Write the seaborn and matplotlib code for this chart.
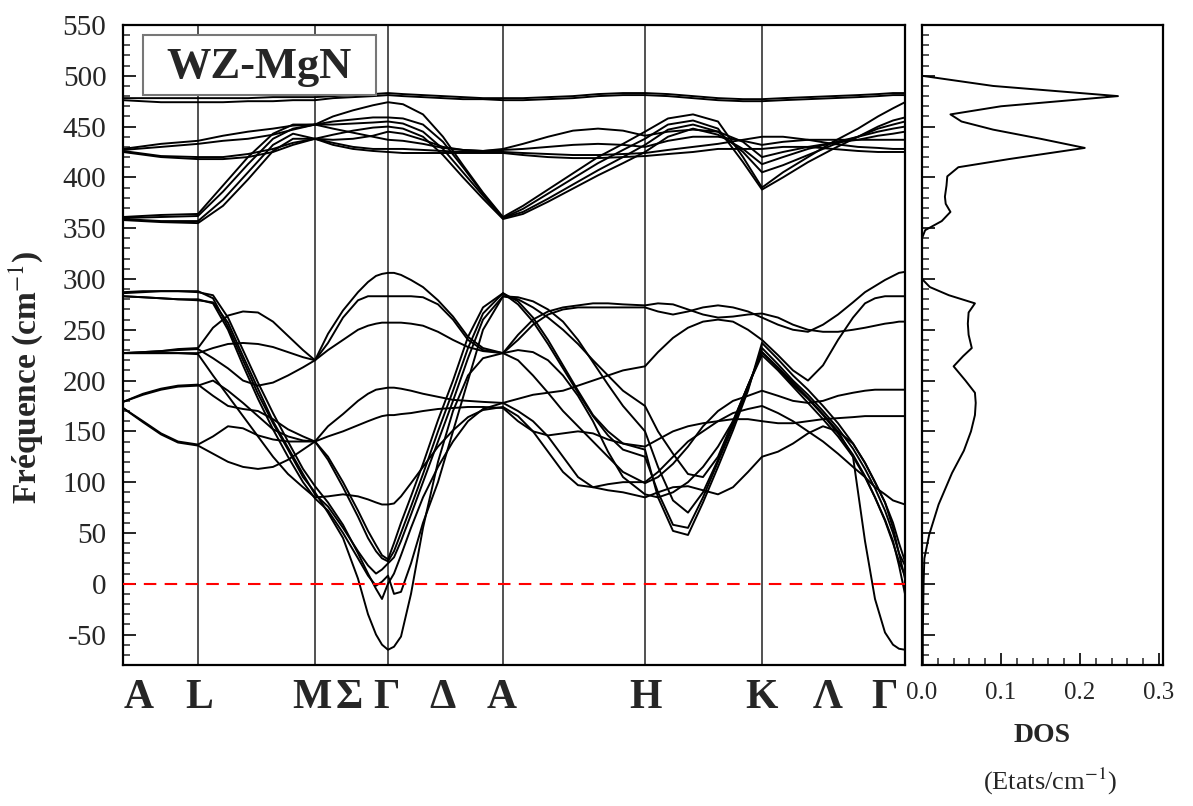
import numpy as np
import pandas as pd
import matplotlib
matplotlib.use("Agg")
import matplotlib.pyplot as plt
import seaborn as sns
from matplotlib.ticker import MultipleLocator
from matplotlib.patches import Rectangle

# ---------------- data ----------------
# high-symmetry path (cumulative path length, arbitrary units)
sym_k = [0, 75, 192, 265, 380, 522, 639, 782]
label_texts = ["A", "L", "M", "Σ", "Γ", "Δ", "A", "H", "K", "Λ", "Γ"]

# k sampling for the optical (high) bands
k_high = [0, 38, 75, 100, 125, 150, 170, 192, 210, 230, 250, 265,
          280, 300, 320, 340, 360, 380, 400, 425, 450, 475, 500, 522,
          545, 570, 595, 620, 639, 660, 685, 710, 735, 755, 770, 782]

high_bands = [
    [478, 478, 478, 478, 478, 479, 479, 479, 480, 481, 482, 483, 482, 481, 480, 479, 478, 478,
     478, 479, 480, 482, 483, 483, 482, 480, 478, 477, 477, 478, 479, 480, 481, 482, 483, 483],
    [476, 474, 474, 474, 475, 475, 476, 476, 478, 479, 480, 481, 480, 479, 478, 477, 477, 476,
     476, 477, 478, 480, 481, 481, 480, 478, 476, 475, 475, 476, 477, 478, 479, 480, 481, 481],
    [428, 433, 436, 441, 445, 448, 451, 452, 460, 466, 471, 474, 472, 462, 440, 412, 385, 361,
     372, 388, 404, 420, 433, 445, 458, 462, 455, 420, 390, 405, 420, 435, 448, 460, 468, 474],
    [427, 430, 433, 436, 438, 442, 447, 452, 455, 457, 459, 459, 458, 452, 435, 410, 384, 360,
     369, 384, 399, 414, 427, 438, 452, 456, 448, 415, 388, 400, 415, 428, 440, 450, 456, 459],
    [426, 421, 420, 420, 423, 428, 434, 438, 442, 446, 449, 450, 448, 440, 422, 400, 379, 359,
     364, 376, 389, 402, 414, 425, 440, 448, 442, 428, 413, 420, 428, 434, 440, 445, 448, 450],
    [425, 420, 418, 418, 420, 425, 432, 438, 437, 438, 441, 445, 443, 437, 430, 427, 426, 428,
     433, 440, 446, 448, 446, 441, 445, 447, 445, 435, 420, 425, 430, 434, 437, 441, 443, 445],
    [361, 363, 364, 392, 420, 443, 452, 452, 452, 453, 454, 455, 453, 445, 428, 405, 382, 360,
     366, 379, 393, 407, 420, 432, 447, 452, 445, 425, 405, 412, 422, 432, 440, 448, 452, 455],
    [360, 361, 362, 386, 413, 438, 448, 452, 448, 444, 440, 437, 436, 433, 429, 427, 426, 427,
     428, 430, 432, 433, 432, 430, 436, 440, 440, 436, 432, 435, 437, 437, 437, 437, 437, 437],
    [359, 357, 357, 378, 405, 432, 443, 438, 434, 430, 428, 428, 428, 427, 426, 425, 425, 425,
     424, 423, 422, 422, 423, 424, 427, 430, 433, 437, 440, 440, 437, 433, 430, 429, 428, 428],
    [358, 356, 355, 372, 398, 426, 438, 438, 432, 428, 426, 425, 424, 424, 424, 424, 424, 424,
     422, 420, 419, 419, 420, 421, 423, 425, 428, 428, 428, 430, 430, 428, 426, 425, 425, 425],
]

# k sampling for the acoustic / low optical bands
k_low = [0, 20, 38, 55, 75,
         90, 105, 120, 135, 150, 165, 180, 192,
         205, 220, 235, 245, 253, 259, 265,
         271, 278, 288, 300, 315, 330, 345, 360, 380,
         395, 410, 425, 440, 455, 470, 485, 500, 522,
         535, 550, 565, 580, 595, 610, 625, 639,
         655, 670, 685, 700, 715, 730, 742, 752, 762, 770, 776, 782]

low_bands = [
    [227, 228, 229, 231, 232,
     252, 264, 268, 267, 258, 244, 230, 220,
     246, 269, 287, 297, 303, 305, 306,
     306, 304, 299, 292, 279, 263, 243, 232, 227,
     240, 255, 265, 270, 272, 272, 272, 272, 272,
     268, 265, 268, 272, 274, 272, 268, 262,
     255, 250, 248, 255, 265, 277, 287, 293, 299, 303, 306, 307],
    [227, 227, 227, 227, 227,
     232, 236, 237, 236, 233, 228, 223, 220,
     237, 262, 279, 283, 283, 283, 283,
     283, 283, 283, 282, 275, 260, 240, 230, 227,
     245, 260, 268, 272, 274, 276, 276, 275, 274,
     276, 275, 270, 265, 262, 263, 265, 266,
     262, 255, 250, 248, 248, 250, 252, 254, 256, 257, 258, 258],
    [227, 228, 229, 230, 231,
     222, 212, 200, 195, 198, 205, 213, 220,
     230, 240, 250, 254, 256, 257, 257,
     257, 257, 256, 254, 248, 240, 233, 229, 227,
     220, 205, 188, 170, 155, 140, 125, 110, 99,
     105, 118, 135, 155, 170, 180, 185, 190,
     185, 180, 178, 180, 185, 188, 190, 191, 191, 191, 191, 191],
    [227, 227, 227, 227, 226,
     205, 185, 165, 145, 125, 108, 95, 85,
     86, 88, 86, 83, 80, 78, 78,
     79, 86, 99, 115, 135, 151, 164, 171, 174,
     165, 150, 130, 110, 97, 95, 98, 100, 100,
     110, 125, 140, 150, 160, 168, 172, 175,
     168, 160, 150, 140, 128, 115, 105, 95, 88, 82, 80, 78],
    [179, 187, 192, 195, 196,
     185, 175, 172, 170, 162, 152, 145, 140,
     155, 167, 180, 187, 191, 192, 193,
     193, 192, 190, 187, 184, 181, 180, 179, 178,
     182, 186, 188, 190, 195, 200, 205, 210, 214,
     228, 242, 252, 258, 260, 258, 250, 240,
     225, 210, 200, 215, 240, 262, 276, 281, 283, 283, 283, 283],
    [179, 186, 191, 194, 195,
     200, 190, 178, 165, 152, 145, 141, 140,
     145, 150, 156, 160, 163, 165, 166,
     166, 167, 168, 170, 172, 173, 174, 174, 173,
     160, 150, 146, 148, 150, 148, 142, 138, 135,
     142, 150, 155, 158, 160, 162, 162, 160,
     158, 158, 160, 162, 163, 164, 165, 165, 165, 165, 165, 165],
    [173, 160, 148, 140, 137,
     145, 155, 153, 146, 142, 140, 140, 140,
     125, 100, 72, 52, 38, 28, 24,
     40, 60, 86, 118, 161, 200, 243, 272, 286,
     278, 262, 240, 215, 190, 166, 150, 138, 132,
     85, 52, 48, 80, 115, 151, 190, 237,
     221, 205, 191, 175, 158, 138, 119, 100, 80, 60, 40, 22],
    [173, 159, 147, 139, 136,
     128, 120, 115, 113, 115, 122, 132, 140,
     122, 95, 66, 45, 32, 25, 22,
     32, 50, 76, 108, 150, 190, 232, 266, 286,
     275, 258, 236, 212, 188, 165, 146, 132, 125,
     90, 58, 55, 85, 120, 155, 192, 232,
     216, 200, 186, 170, 153, 133, 113, 94, 72, 50, 30, 18],
    [287, 288, 288, 288, 288,
     281, 253, 220, 187, 158, 132, 105, 90,
     70, 45, 5, -30, -50, -60, -65,
     -62, -52, -10, 55, 120, 170, 205, 222, 227,
     230, 228, 220, 205, 185, 160, 130, 105, 88,
     85, 90, 100, 115, 135, 160, 195, 228,
     213, 198, 183, 167, 150, 125, 42, -15, -48, -60, -64, -65],
    [286, 287, 288, 288, 287,
     284, 262, 230, 198, 168, 140, 113, 96,
     80, 58, 30, 10, -5, -15, 0,
     10, 28, 55, 85, 115, 140, 160, 172, 178,
     170, 160, 145, 125, 105, 95, 92, 90, 85,
     90, 95, 96, 92, 88, 95, 110, 125,
     130, 138, 148, 155, 150, 138, 119, 100, 80, 55, 30, 5],
    [283, 282, 281, 280, 279,
     277, 257, 224, 192, 160, 134, 108, 88,
     76, 55, 32, 18, 10, 14, 20,
     26, 42, 68, 100, 140, 180, 222, 260, 283,
     282, 278, 270, 258, 240, 218, 196, 175, 150,
     115, 82, 70, 90, 122, 158, 195, 228,
     212, 196, 182, 166, 148, 127, 106, 85, 62, 40, 22, 8],
    [283, 282, 281, 280, 280,
     276, 250, 215, 182, 152, 125, 100, 84,
     72, 50, 25, 8, -2, 2, 8,
     -10, -8, 20, 60, 100, 150, 200, 250, 283,
     280, 272, 262, 250, 236, 220, 205, 190, 175,
     150, 128, 108, 105, 125, 160, 195, 225,
     210, 194, 178, 162, 145, 125, 105, 85, 63, 42, 18, -10],
]

# phonon density of states
dos_freq = [-80, -50, 0, 25, 48, 78, 109, 131, 150, 166, 178, 188, 200, 214, 224, 232,
            245, 256, 267, 276, 284, 292, 300, 320, 340, 348, 357, 366, 374, 381, 392,
            401, 410, 418, 429, 438, 447, 455, 462, 470, 480, 490, 500, 520, 550]
dos_vals = [0.001, 0.001, 0.002, 0.003, 0.009, 0.021, 0.038, 0.053, 0.062, 0.067, 0.068,
            0.067, 0.055, 0.040, 0.052, 0.063, 0.059, 0.058, 0.059, 0.067, 0.034, 0.010,
            0.0, 0.0, 0.0, 0.004, 0.025, 0.036, 0.030, 0.029, 0.031, 0.032, 0.046, 0.11,
            0.206, 0.15, 0.09, 0.05, 0.036, 0.10, 0.248, 0.09, 0.0, 0.0, 0.0]

# ---------------- long-form table ----------------
rows = []
for i, b in enumerate(high_bands):
    for k, f in zip(k_high, b):
        rows.append({"band": f"h{i}", "k": k, "freq": f})
for i, b in enumerate(low_bands):
    for k, f in zip(k_low, b):
        rows.append({"band": f"l{i}", "k": k, "freq": f})
df = pd.DataFrame(rows)
dos_df = pd.DataFrame({"freq": dos_freq, "dos": dos_vals})

# ---------------- style ----------------
sns.set_theme(style="white")
plt.rcParams["font.family"] = ["Liberation Serif", "DejaVu Serif"]
plt.rcParams["mathtext.fontset"] = "stix"
plt.rcParams["axes.unicode_minus"] = False
plt.rcParams["axes.edgecolor"] = "black"
plt.rcParams["axes.linewidth"] = 1.6

fig = plt.figure(figsize=(11.93, 8.06), dpi=100)
ax = fig.add_axes([123 / 1193, 1 - 665 / 806, 782 / 1193, 640 / 806])
axd = fig.add_axes([922 / 1193, 1 - 665 / 806, 241 / 1193, 640 / 806])

# bands
sns.lineplot(data=df, x="k", y="freq", units="band", estimator=None, sort=False,
             color="black", lw=1.4, ax=ax, legend=False, zorder=2)
for k in sym_k[1:-1]:
    ax.axvline(k, color="#222222", lw=1.1, zorder=1)
ax.axhline(0, color="red", lw=1.5, ls=(0, (6, 4)), zorder=3)

ax.set_xlim(sym_k[0], sym_k[-1])
ax.set_ylim(-80, 550)
ax.set_yticks(np.arange(-50, 551, 50))
ax.yaxis.set_minor_locator(MultipleLocator(10))
ax.tick_params(axis="y", which="major", direction="in", length=9, width=1.4,
               labelsize=21, left=True, pad=12)
ax.tick_params(axis="y", which="minor", direction="in", length=5, width=1.1, left=True)
label_pos = [16, 76, 189, 226, 264, 320, 379, 522, 638, 705, 761]
ax.set_xticks(label_pos)
ax.set_xticklabels(label_texts, fontsize=30, fontweight="bold")
ax.tick_params(axis="x", length=0, pad=10)
ax.set_xlabel("")
ax.set_ylabel("Fréquence (cm$^{-1}$)", fontsize=24, fontweight="bold")
ax.yaxis.set_label_coords(-0.100, 0.45)

# title box
ax.add_patch(Rectangle((0.0256, 0.8906), 0.298, 0.094, transform=ax.transAxes,
                       facecolor="white", edgecolor="#777777", lw=1.5, zorder=5))
ax.text(0.1746, 0.935, "WZ-MgN", transform=ax.transAxes, ha="center", va="center",
        fontsize=32, fontweight="bold", zorder=6)

# DOS
sns.lineplot(data=dos_df, x="dos", y="freq", sort=False, orient="y", estimator=None,
             color="black", lw=1.4, ax=axd, legend=False)
axd.set_xlim(0, 0.305)
axd.set_ylim(-80, 550)
axd.set_xticks([0.0, 0.1, 0.2, 0.3])
axd.set_xticklabels(["0.0", "0.1", "0.2", "0.3"], fontsize=18)
axd.xaxis.set_minor_locator(MultipleLocator(0.02))
axd.set_yticks(np.arange(-50, 551, 50))
axd.yaxis.set_minor_locator(MultipleLocator(10))
axd.tick_params(axis="y", which="major", direction="in", length=9, width=1.4,
                left=True, labelleft=False)
axd.tick_params(axis="y", which="minor", direction="in", length=5, width=1.1, left=True)
axd.tick_params(axis="x", which="major", direction="in", length=9, width=1.4,
                bottom=True, pad=12)
axd.tick_params(axis="x", which="minor", direction="in", length=5, width=1.1, bottom=True)
axd.set_xlabel("")
axd.set_ylabel("")

fig.text(1042 / 1193, 1 - 736 / 806, "DOS", ha="center", va="center",
         fontsize=20, fontweight="bold")
fig.text(1050 / 1193, 1 - 781 / 806, "(Etats/cm$^{-1}$)", ha="center", va="center",
         fontsize=19)

fig.savefig("out.png", dpi=100)
